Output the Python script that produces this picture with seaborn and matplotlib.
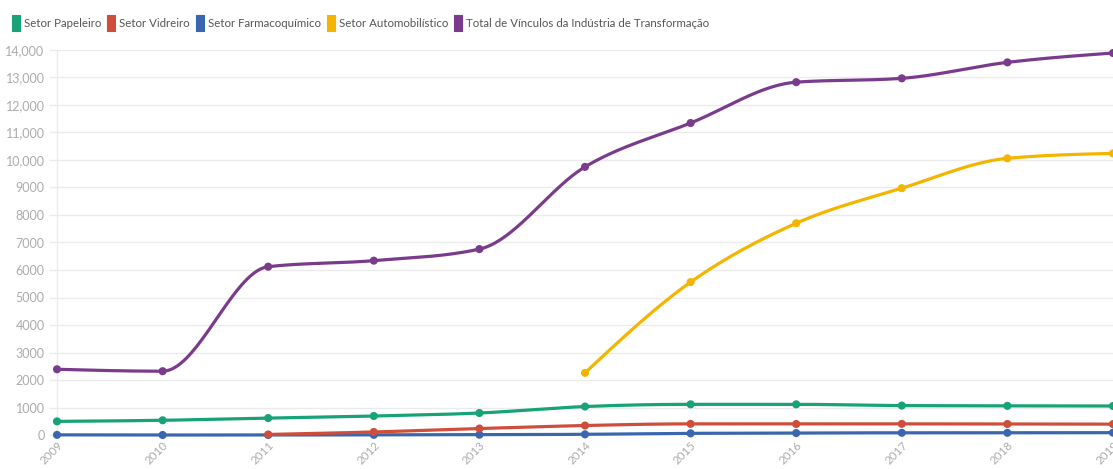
import numpy as np
import pandas as pd
import matplotlib
matplotlib.use("Agg")
import matplotlib.pyplot as plt
from matplotlib.ticker import FuncFormatter
from matplotlib.lines import Line2D
import seaborn as sns

# Employment links by sector (number of workers)
years = [2009, 2010, 2011, 2012, 2013, 2014, 2015, 2016, 2017, 2018, 2019]
papeleiro = [495, 535, 615, 690, 800, 1035, 1115, 1115, 1070, 1060, 1055]
vidreiro = [None, None, 20, 110, 235, 345, 405, 400, 405, 400, 395]
farmacoquimico = [5, 0, 0, 5, 10, 25, 60, 70, 80, 80, 85]
automobilistico = [None, None, None, None, None, 2260, 5560, 7700, 8975, 10060, 10240]
total = [2390, 2320, 6120, 6340, 6760, 9750, 11345, 12830, 12970, 13550, 13890]

series_names = [
    "Setor Papeleiro",
    "Setor Vidreiro",
    "Setor Farmacoquímico",
    "Setor Automobilístico",
    "Total de Vínculos da Indústria de Transformação",
]
series_values = [papeleiro, vidreiro, farmacoquimico, automobilistico, total]
colors = ["#17a277", "#cf4e3b", "#3a66ae", "#f3b500", "#7b3b8c"]
palette = dict(zip(series_names, colors))


def monotone_curve(x, y, n=40):
    """Monotone cubic (Fritsch-Carlson style) interpolation between points."""
    x = np.asarray(x, float)
    y = np.asarray(y, float)
    if len(x) < 2:
        return x, y
    h = np.diff(x)
    s = np.diff(y) / h
    m = np.zeros_like(y)
    for k in range(1, len(x) - 1):
        s0, s1 = s[k - 1], s[k]
        p = (s0 * h[k] + s1 * h[k - 1]) / (h[k - 1] + h[k])
        m[k] = (np.sign(s0) + np.sign(s1)) * min(abs(s0), abs(s1), 0.5 * abs(p))
    if len(x) > 2:
        m[0] = (3 * s[0] - m[1]) / 2
        m[-1] = (3 * s[-1] - m[-2]) / 2
    else:
        m[0] = m[-1] = s[0]
    xs, ys = [], []
    for k in range(len(x) - 1):
        t = np.linspace(0, 1, n, endpoint=(k == len(x) - 2))
        h00 = 2 * t**3 - 3 * t**2 + 1
        h10 = t**3 - 2 * t**2 + t
        h01 = -2 * t**3 + 3 * t**2
        h11 = t**3 - t**2
        xs.append(x[k] + t * h[k])
        ys.append(h00 * y[k] + h10 * h[k] * m[k] + h01 * y[k + 1] + h11 * h[k] * m[k + 1])
    return np.concatenate(xs), np.concatenate(ys)


points = []
curves = []
for name, vals in zip(series_names, series_values):
    xv = [yr for yr, v in zip(years, vals) if v is not None]
    yv = [v for v in vals if v is not None]
    for a, b in zip(xv, yv):
        points.append({"Ano": a, "Vínculos": b, "Série": name})
    cx, cy = monotone_curve(xv, yv)
    for a, b in zip(cx, cy):
        curves.append({"Ano": a, "Vínculos": b, "Série": name})
points = pd.DataFrame(points)
curves = pd.DataFrame(curves)

sns.set_theme(style="white")
plt.rcParams["font.family"] = ["Lato", "DejaVu Sans"]

fig = plt.figure(figsize=(11.13, 4.69), dpi=100)
ax = fig.add_axes([57 / 1113, 34 / 469, 1056 / 1113, 385 / 469])

# draw the total first so the sector lines sit on top in the same order
order = series_names[::-1]
for name in order:
    sns.lineplot(data=curves[curves["Série"] == name], x="Ano", y="Vínculos",
                 color=palette[name], linewidth=2.3, ax=ax, legend=False,
                 estimator=None, sort=False, clip_on=False, zorder=3)
    sns.scatterplot(data=points[points["Série"] == name], x="Ano", y="Vínculos",
                    color=palette[name], s=34, edgecolor="none", ax=ax,
                    legend=False, clip_on=False, zorder=4)

ax.set_xlim(2009, 2019)
ax.set_ylim(0, 14000)
ax.set_yticks(np.arange(0, 14001, 1000))
ax.yaxis.set_major_formatter(FuncFormatter(
    lambda v, _: f"{int(v):,}" if v >= 10000 else f"{int(v)}"))
ax.set_xticks(years)
ax.set_xticklabels([str(y) for y in years], rotation=45, ha="right",
                   rotation_mode="anchor")
ax.set_xlabel("")
ax.set_ylabel("")

ax.grid(axis="y", color="#ebebeb", linewidth=1.0, zorder=0)
ax.grid(axis="x", visible=False)
for side in ["top", "right", "bottom"]:
    ax.spines[side].set_visible(False)
ax.spines["left"].set_color("#ebebeb")
ax.spines["left"].set_linewidth(1.0)
ax.tick_params(axis="y", length=6, width=1, color="#ebebeb", pad=3,
               labelsize=9, labelcolor="#ababab", left=True)
ax.tick_params(axis="x", length=3, width=1, color="#f0f0f0", pad=0.5,
               labelsize=8.4, labelcolor="#ababab", bottom=True)

# tall rounded-looking swatches for the legend
swatch = [(-0.55, -1), (0.55, -1), (0.55, 1), (-0.55, 1), (-0.55, -1)]
handles = [Line2D([0], [0], marker=swatch, linestyle="none", markersize=11,
                  markerfacecolor=c, markeredgecolor=c, markeredgewidth=0.8)
           for c in colors]
fig.legend(handles, series_names, loc="upper left", bbox_to_anchor=(0.001, 0.983),
           ncol=5, frameon=False, handletextpad=0.3, columnspacing=0.45,
           handlelength=0.8, fontsize=8.3, labelcolor="#555555")

fig.savefig("out.png", dpi=100)
